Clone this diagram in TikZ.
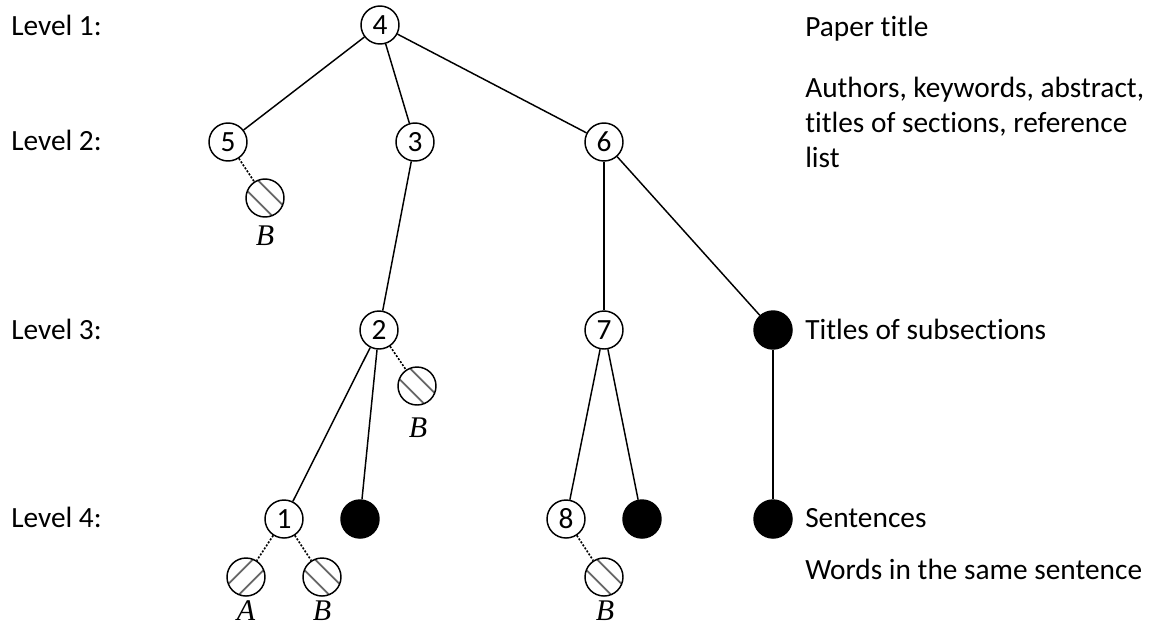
\documentclass[tikz,border=0pt]{standalone}
\usepackage{fontspec}
\setmainfont[Ligatures=NoCommon]{Carlito}
\newfontfamily\labelfont{Liberation Serif}
\begin{document}
\begin{tikzpicture}[x=0.75pt,y=-0.75pt,
  every node/.style={inner sep=0pt},
  txt/.style={font=\fontsize{22}{26.25}\selectfont, anchor=base west},
  num/.style={circle, draw, line width=1.1pt, minimum size=38*0.75pt, font=\fontsize{22}{26}\selectfont},
  leaf/.style={circle, draw, fill=black, line width=1.1pt, minimum size=38*0.75pt},
  stripe/.style={black!60, line width=1.3pt},
  hatchB/.style={circle, draw, line width=1.1pt, minimum size=38*0.75pt,
    path picture={\foreach \s in {-1,1}{
      \draw[stripe] ([shift={(5.3*\s-25,-5.3*\s-25)}]path picture bounding box.center)
                 -- ([shift={(5.3*\s+25,-5.3*\s+25)}]path picture bounding box.center);}}},
  hatchA/.style={circle, draw, line width=1.1pt, minimum size=38*0.75pt,
    path picture={\foreach \s in {-1,1}{
      \draw[stripe] ([shift={(5.3*\s-25,5.3*\s+25)}]path picture bounding box.center)
                 -- ([shift={(5.3*\s+25,5.3*\s-25)}]path picture bounding box.center);}}},
  lbl/.style={font=\labelfont\itshape\fontsize{22.5}{26}\selectfont, anchor=base, text depth=0pt},
  edge/.style={line width=1.1pt},
  dot/.style={line width=1.2pt, dash pattern=on 1.5pt off 1.2pt}]
\useasboundingbox (0,0) rectangle (1151,626);

% level captions
\node[txt] (l1) at (11,35) {Level 1:};
\node[txt] (l2) at (11,150) {Level 2:};
\node[txt] (l3) at (11,339) {Level 3:};
\node[txt] (l4) at (11,527) {Level 4:};

% descriptions
\node[txt] (d1) at (805,36) {Paper title};
\node[txt, align=left, anchor=north west] (d2) at (805,76.5) {Authors, keywords, abstract,\\titles of sections, reference\\list};
\node[txt] (d3) at (805,339) {Titles of subsections};
\node[txt] (d4) at (805,527) {Sentences};
\node[txt] (d5) at (805,579) {Words in the same sentence};

% tree nodes
\node[num] (n4) at (380,25) {4};
\node[num] (n5) at (228,142) {5};
\node[num] (n3) at (415,142) {3};
\node[num] (n6) at (604,142) {6};
\node[num] (n2) at (379,330) {2};
\node[num] (n7) at (604,330) {7};
\node[leaf] (k3) at (773,330) {};
\node[num] (n1) at (284,519) {1};
\node[leaf] (k4a) at (360,519) {};
\node[num] (n8) at (566,519) {8};
\node[leaf] (k4b) at (642,519) {};
\node[leaf] (k4c) at (773,519) {};

% word leaves
\node[hatchB] (w5) at (265,198) {};
\node[lbl] (w5l) at (265,245) {B};
\node[hatchB] (w2) at (417,386) {};
\node[lbl] (w2l) at (418,437) {B};
\node[hatchA] (w1a) at (246,577) {};
\node[lbl] (w1al) at (246,620) {A};
\node[hatchB] (w1b) at (322,577) {};
\node[lbl] (w1bl) at (322,620) {B};
\node[hatchB] (w8) at (604,577) {};
\node[lbl] (w8l) at (605,620) {B};

% edges
\draw[edge] (n4) -- (n5);
\draw[edge] (n4) -- (n3);
\draw[edge] (n4) -- (n6);
\draw[edge] (n3) -- (n2);
\draw[edge] (n6) -- (n7);
\draw[edge] (n6) -- (k3);
\draw[edge] (n2) -- (n1);
\draw[edge] (n2) -- (k4a);
\draw[edge] (n7) -- (n8);
\draw[edge] (n7) -- (k4b);
\draw[edge] (k3) -- (k4c);
\draw[dot] (n5) -- (w5);
\draw[dot] (n2) -- (w2);
\draw[dot] (n1) -- (w1a);
\draw[dot] (n1) -- (w1b);
\draw[dot] (n8) -- (w8);
\end{tikzpicture}
\end{document}
